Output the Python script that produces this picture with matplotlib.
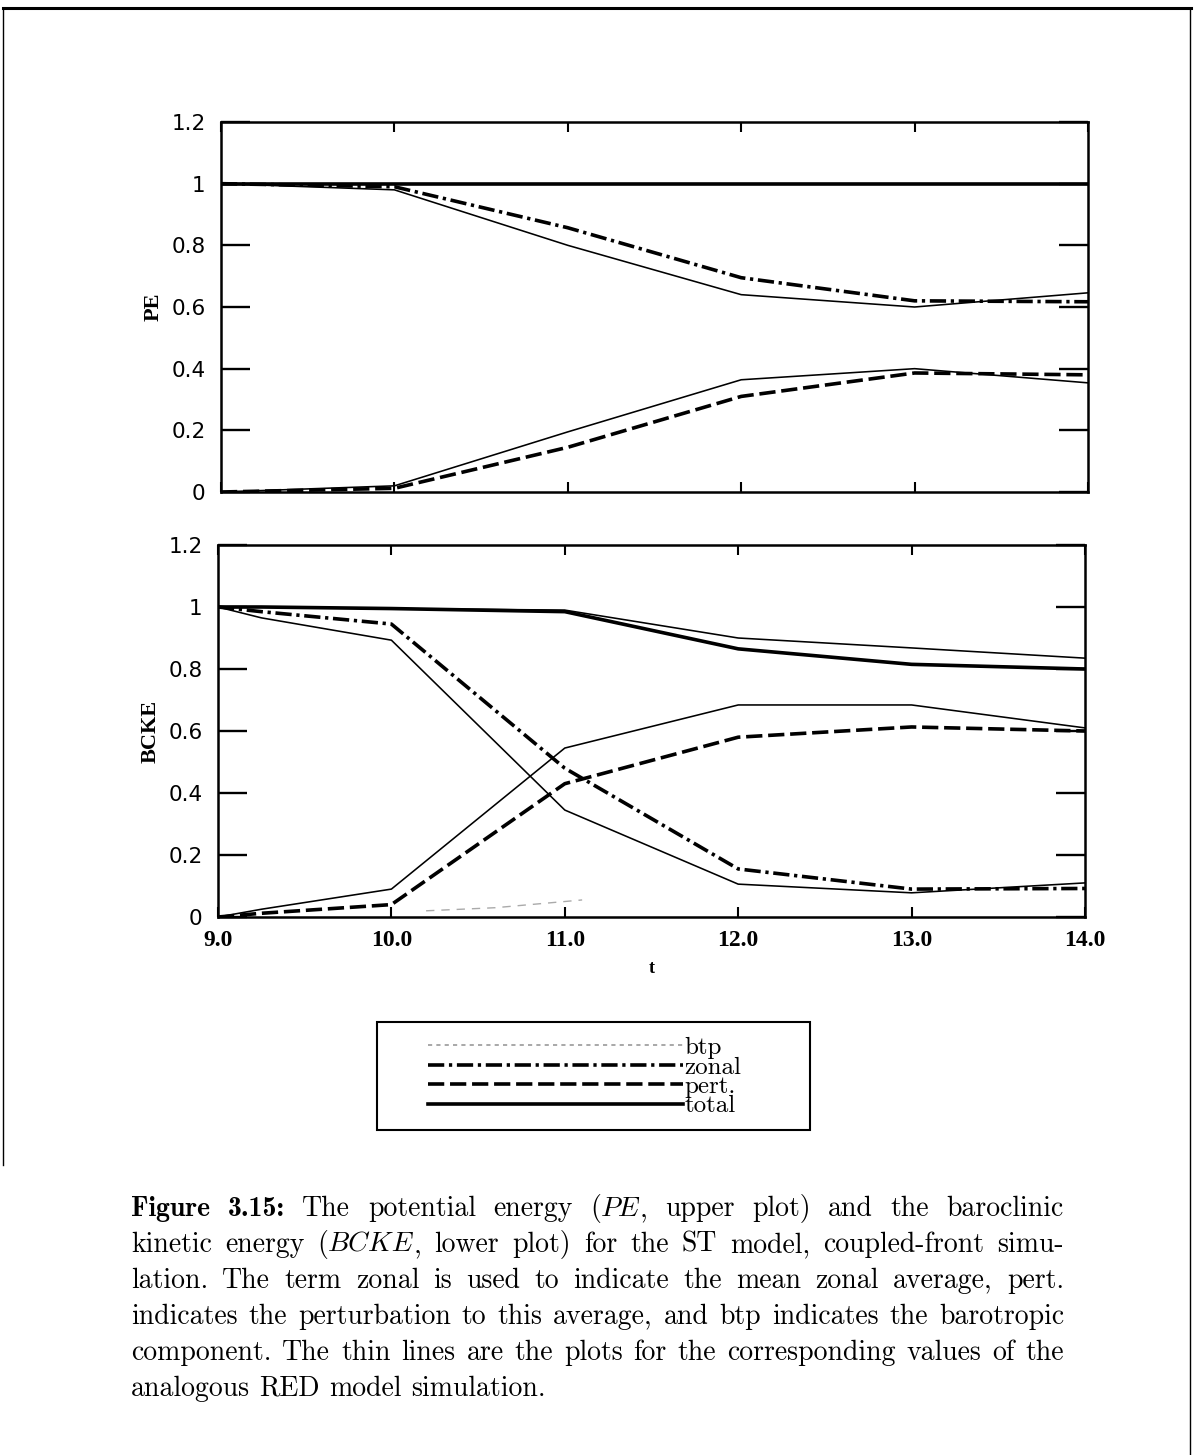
"""Figure 3.15: PE and BCKE for the ST model (thick) vs the RED model (thin)."""

import matplotlib

matplotlib.use("Agg")
import matplotlib.pyplot as plt
from matplotlib.lines import Line2D
from matplotlib.patches import Rectangle

W, H = 1195, 1455

# --------------------------------------------------------------------------- #
# data
# --------------------------------------------------------------------------- #
t_top = [9.0, 10.0, 11.0, 12.0, 13.0, 14.0]
pe_total = [1.0, 1.0, 1.0, 1.0, 1.0, 1.0]
pe_total_red = [1.0, 1.0, 1.0, 1.0, 1.0, 1.0]
pe_zonal = [1.0, 0.99, 0.857, 0.695, 0.62, 0.617]
pe_zonal_red = [1.0, 0.98, 0.80, 0.64, 0.60, 0.646]
pe_pert = [0.0, 0.012, 0.145, 0.31, 0.386, 0.38]
pe_pert_red = [0.0, 0.02, 0.195, 0.364, 0.40, 0.354]

t_bot = [9.0, 9.25, 10.0, 11.0, 12.0, 13.0, 14.0]
ke_total = [1.0, 1.0, 0.995, 0.985, 0.865, 0.815, 0.80]
ke_total_red = [1.0, 1.0, 0.995, 0.99, 0.90, 0.868, 0.835]
ke_zonal = [1.0, 0.985, 0.945, 0.48, 0.155, 0.09, 0.092]
ke_zonal_red = [1.0, 0.965, 0.893, 0.345, 0.106, 0.078, 0.11]
ke_pert = [0.0, 0.012, 0.04, 0.43, 0.58, 0.613, 0.60]
ke_pert_red = [0.0, 0.025, 0.09, 0.545, 0.684, 0.684, 0.61]

t_btp = [10.2, 10.6, 11.1]
ke_btp = [0.02, 0.03, 0.055]

xticks = [9.0, 10.0, 11.0, 12.0, 13.0, 14.0]
xticklabels = ["9.0", "10.0", "11.0", "12.0", "13.0", "14.0"]
yticks = [0.0, 0.2, 0.4, 0.6, 0.8, 1.0, 1.2]
yticklabels = ["0", "0.2", "0.4", "0.6", "0.8", "1", "1.2"]

legend_labels = ["btp", "zonal", "pert.", "total"]

caption = [
    [[("Figure", "cmb10")], [("3.15:", "cmb10")], [("The", "cmr10")],
     [("potential", "cmr10")], [("energy", "cmr10")],
     [("(", "cmr10"), ("PE", "cmmi10"), (",", "cmr10")], [("upper", "cmr10")],
     [("plot)", "cmr10")], [("and", "cmr10")], [("the", "cmr10")],
     [("baroclinic", "cmr10")]],
    "kinetic energy (|BCKE|, lower plot) for the ST model, coupled-front simu-",
    "lation. The term zonal is used to indicate the mean zonal average, pert.",
    "indicates the perturbation to this average, and btp indicates the barotropic",
    "component. The thin lines are the plots for the corresponding values of the",
    "analogous RED model simulation.",
]

# --------------------------------------------------------------------------- #
# styles
# --------------------------------------------------------------------------- #
THICK, THIN = 2.6, 1.15
ZONAL_DASH = (0, (4.5, 1.3, 0.9, 1.3))
PERT_DASH = (0, (4.5, 1.6))
BTP_DASH = (0, (6, 5))

fig = plt.figure(figsize=(W / 100, H / 100), dpi=100)


def px_axes(left, top, right, bottom):
    return fig.add_axes([left / W, 1 - bottom / H, (right - left) / W, (bottom - top) / H])


def style_axes(ax, ylabel, show_x):
    ax.set_xlim(9, 14)
    ax.set_ylim(0, 1.2)
    for s in ax.spines.values():
        s.set_linewidth(1.8)
    ax.set_xticks(xticks)
    ax.set_yticks(yticks)
    ax.tick_params(axis="y", direction="in", length=21, width=1.7,
                   left=True, right=True, pad=11)
    ax.tick_params(axis="x", direction="in", length=7, width=1.5,
                   top=True, bottom=True, pad=9)
    ax.set_yticklabels(yticklabels, fontfamily="DejaVu Sans", fontsize=15.5)
    if show_x:
        ax.set_xticklabels(xticklabels, fontfamily="Liberation Serif",
                           fontweight="bold", fontsize=17)
        ax.set_xlabel("t", fontfamily="Liberation Serif", fontweight="bold",
                      fontsize=13, labelpad=7)
    else:
        ax.set_xticklabels([])
    ax.set_ylabel(ylabel, fontfamily="Liberation Serif", fontweight="bold",
                  fontsize=16, labelpad=6)


def draw_set(ax, t, total, total_red, zonal, zonal_red, pert, pert_red):
    ax.plot(t, total_red, color="black", lw=THIN)
    ax.plot(t, zonal_red, color="black", lw=THIN)
    ax.plot(t, pert_red, color="black", lw=THIN)
    ax.plot(t, zonal, color="black", lw=THICK, linestyle=ZONAL_DASH)
    ax.plot(t, pert, color="black", lw=THICK, linestyle=PERT_DASH)
    ax.plot(t, total, color="black", lw=THICK, solid_capstyle="butt")


ax_pe = px_axes(221, 122, 1088, 492)
draw_set(ax_pe, t_top, pe_total, pe_total_red, pe_zonal, pe_zonal_red, pe_pert, pe_pert_red)
style_axes(ax_pe, "PE", show_x=False)

ax_ke = px_axes(218, 545, 1085, 917)
draw_set(ax_ke, t_bot, ke_total, ke_total_red, ke_zonal, ke_zonal_red, ke_pert, ke_pert_red)
(btp_line,) = ax_ke.plot(t_btp, ke_btp, color="#aaaaaa", lw=1.0, linestyle=BTP_DASH)
style_axes(ax_ke, "BCKE", show_x=True)

# legend: handles built from the same styles, framed separately
handles = [
    Line2D([], [], color="#9a9a9a", lw=1.2, linestyle=(0, (2.5, 2.5))),
    Line2D([], [], color="black", lw=THICK, linestyle=ZONAL_DASH),
    Line2D([], [], color="black", lw=THICK, linestyle=PERT_DASH),
    Line2D([], [], color="black", lw=THICK),
]
fig.legend(handles, legend_labels, loc="center", bbox_to_anchor=(585 / W, 1 - 1077 / H),
           frameon=False, prop={"family": "cmr10", "size": 18}, handlelength=10.2,
           handletextpad=0.05, labelspacing=-0.12, borderpad=0.0)
fig.add_artist(Rectangle((377 / W, 1 - 1130 / H), 433 / W, 108 / H,
                         transform=fig.transFigure, fill=False, lw=1.5, ec="black"))

# page frame
fig.add_artist(Line2D([3 / W, 1191 / W], [1 - 8 / H, 1 - 8 / H], color="black", lw=2.2))
fig.add_artist(Line2D([3 / W, 3 / W], [1 - 8 / H, 1 - 1165 / H], color="black", lw=1.0))
fig.add_artist(Line2D([1190 / W, 1190 / W], [1 - 8 / H, 0], color="black", lw=1.0))

# --------------------------------------------------------------------------- #
# justified caption
# --------------------------------------------------------------------------- #
CAP_SIZE = 20
renderer = fig.canvas.get_renderer()


def parse(line):
    words = []
    for w in line.split(" "):
        if "|" in w:
            a, b, c = w.split("|")
            segs = [(s, f) for s, f in ((a, "cmr10"), (b, "cmmi10"), (c, "cmr10")) if s]
        else:
            segs = [(w, "cmr10")]
        words.append(segs)
    return words


def place_line(words, y_px, x0=131, x1=1064, justify=True):
    arts = []
    widths = []
    for segs in words:
        wa = []
        ww = 0.0
        for s, fam in segs:
            tx = fig.text(0, 0, s, fontfamily=fam, fontsize=CAP_SIZE, va="baseline")
            w = tx.get_window_extent(renderer).width
            wa.append((tx, w))
            ww += w
        arts.append(wa)
        widths.append(ww)
    if justify:
        gap = (x1 - x0 - sum(widths)) / (len(words) - 1)
    else:
        gap = 0.333 * CAP_SIZE * 100 / 72
    x = x0
    for wa, ww in zip(arts, widths):
        xx = x
        for tx, w in wa:
            tx.set_position((xx / W, 1 - y_px / H))
            xx += w
        x += ww + gap


for i, line in enumerate(caption):
    words = line if isinstance(line, list) else parse(line)
    place_line(words, 1216 + 36 * i, justify=i < len(caption) - 1)

fig.savefig("out.png", dpi=100)
